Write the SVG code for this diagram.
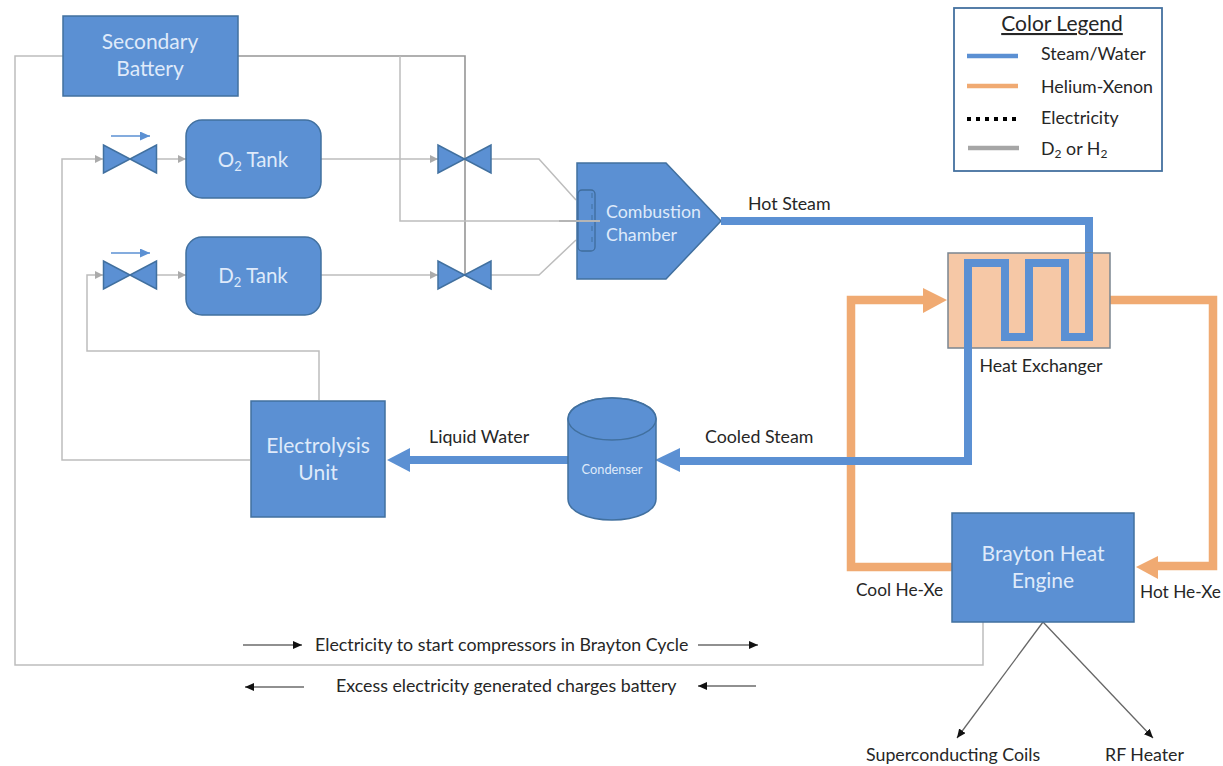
<svg xmlns="http://www.w3.org/2000/svg" width="1223" height="766" viewBox="0 0 1223 766">
<style>
text{font-family:"Lato","Open Sans","Liberation Sans",sans-serif}
.n{fill:#5b90d3;stroke:#41709f;stroke-width:1.5}
.w{fill:#dfeafa;font-size:21px;text-anchor:middle}
.k{fill:#262626;font-size:17.8px}
.g{fill:none;stroke:#bdbdbd;stroke-width:1.5}
.e{fill:none;stroke:#969696;stroke-width:1.6}
.b{fill:none;stroke:#5b90d3;stroke-width:8}
.o{fill:none;stroke:#f0aa72;stroke-width:8.500}
.t{fill:none;stroke:#222;stroke-width:1.2}
.d{fill:none;stroke:#666;stroke-width:1.3}
</style>
<defs>
<marker id="ga" markerWidth="9" markerHeight="9" refX="8" refY="4" orient="auto" markerUnits="userSpaceOnUse"><path d="M0 0L8 4L0 8Z" fill="#ababab"/></marker>
<marker id="ka" markerWidth="10" markerHeight="10" refX="9" refY="4" orient="auto" markerUnits="userSpaceOnUse"><path d="M0 0L9 4L0 8Z" fill="#111"/></marker>
<marker id="la" markerWidth="11" markerHeight="10" refX="10" refY="4.5" orient="auto" markerUnits="userSpaceOnUse"><path d="M0 0L10 4.5L0 9Z" fill="#5b90d3"/></marker>
<g id="valve"><path class="n" d="M-26.500 -14V14L26.500 -14V14Z"/></g>
</defs>
<rect width="1223" height="766" fill="#fff"/>
<g id="connectors">
<path class="g" d="M63 56H15V665H983V622"/>
<path class="e" d="M238 56H465V159M465 159V275"/>
<path class="g" d="M400 56V221H600"/>
<path class="g" d="M250 460H62V159H103" marker-end="url(#ga)"/>
<path class="g" d="M319 400V351H87V275H103" marker-end="url(#ga)"/>
<path class="g" d="M157 159H186" marker-end="url(#ga)"/>
<path class="g" d="M157 275H186" marker-end="url(#ga)"/>
<path class="g" d="M321 159H438" marker-end="url(#ga)"/>
<path class="g" d="M321 275H438" marker-end="url(#ga)"/>
<path class="g" d="M491 159H539L576 200"/>
<path class="g" d="M491 275H539L576 240"/>
<path d="M111 136H150" fill="none" stroke="#5b90d3" stroke-width="1.4" marker-end="url(#la)"/>
<path d="M111 253H150" fill="none" stroke="#5b90d3" stroke-width="1.4" marker-end="url(#la)"/>
<path class="o" d="M1110 300H1213V566H1156"/>
<path d="M1136 567L1158 556V579Z" fill="#f0aa72"/>
<path class="o" d="M952 567H851V300H925"/>
<path d="M947 300L923 288V313Z" fill="#f0aa72"/>
<path class="t" d="M243 645H302" marker-end="url(#ka)"/>
<path class="t" d="M698 645H758" marker-end="url(#ka)"/>
<path class="t" d="M304 687H245" marker-end="url(#ka)"/>
<path class="t" d="M756 686H698" marker-end="url(#ka)"/>
<path class="d" d="M1043 622L957 738" marker-end="url(#ka)"/>
<path class="d" d="M1043 622L1153 738" marker-end="url(#ka)"/>
</g>
<g id="secondary-battery"><rect class="n" x="63" y="16" width="175" height="80"/><text class="w" x="150" y="49">Secondary</text><text class="w" x="150" y="76">Battery</text></g>
<g id="valve-o2-in"><use href="#valve" x="130" y="159"/></g>
<g id="valve-d2-in"><use href="#valve" x="130" y="275"/></g>
<g id="valve-o2-out"><use href="#valve" x="464.500" y="159"/></g>
<g id="valve-d2-out"><use href="#valve" x="464.500" y="275"/></g>
<g id="o2-tank"><rect class="n" x="186" y="120" width="135" height="78" rx="16"/><text class="w" x="253" y="167" style="font-size:20.500px">O<tspan font-size="13" dy="4">2</tspan><tspan dy="-4"> Tank</tspan></text></g>
<g id="d2-tank"><rect class="n" x="186" y="237" width="135" height="78" rx="16"/><text class="w" x="253" y="283" style="font-size:20.500px">D<tspan font-size="13" dy="4">2</tspan><tspan dy="-4"> Tank</tspan></text></g>
<g id="combustion-chamber"><path class="n" d="M577 163H666L721 221L666 279H577Z"/><rect x="578" y="190" width="17" height="61" rx="4" fill="#5b90d3" stroke="#3f6c9c" stroke-width="1.3"/><path d="M592 193V248" stroke="#41709f" stroke-width="1" stroke-dasharray="5 6" fill="none"/><path d="M559 221H600" stroke="#b5b5b5" stroke-width="2" fill="none"/><text x="606" y="218" font-size="17.8" fill="#dfeafa">Combustion</text><text x="606" y="241" font-size="17.8" fill="#dfeafa">Chamber</text></g>
<g id="steam-lines">
<path class="b" d="M721 221H1089V253"/>
<path class="b" d="M968 348V461H678"/>
<path d="M655 460L680 448V472Z" fill="#5b90d3"/>
<path class="b" d="M568 460H408"/>
<path d="M387 460L410 448V472Z" fill="#5b90d3"/>
</g>
<g id="heat-exchanger"><path d="M948 253H1110V348H948Z" fill="#f6c8a6" stroke="#7b8590" stroke-width="1.5"/><path class="b" d="M1089 253V337H1065V263H1029V337H1005V263H968V350"/><text class="k" x="1041" y="372" text-anchor="middle">Heat Exchanger</text></g>
<g id="brayton-heat-engine"><rect class="n" x="952" y="513" width="182" height="109"/><text class="w" x="1043" y="561">Brayton Heat</text><text class="w" x="1043" y="588">Engine</text></g>
<g id="electrolysis-unit"><rect class="n" x="251" y="401" width="134" height="116"/><text class="w" x="318" y="453">Electrolysis</text><text class="w" x="318" y="480">Unit</text></g>
<g id="condenser"><path class="n" d="M568 419C568 407 587 398 612 398S656 407 656 419V499C656 511 637 520 612 520S568 511 568 499Z"/><ellipse class="n" cx="612" cy="419" rx="44" ry="21"/><text x="612" y="474" font-size="12.800" fill="#dfeafa" text-anchor="middle">Condenser</text></g>
<g id="labels">
<text class="k" x="748" y="210">Hot Steam</text>
<text class="k" x="429" y="443">Liquid Water</text>
<text class="k" x="705" y="443">Cooled Steam</text>
<text class="k" x="856" y="596" style="font-size:17.300px">Cool He-Xe</text>
<text class="k" x="1140" y="598" style="font-size:17.300px">Hot He-Xe</text>
<text class="k" x="315" y="651">Electricity to start compressors in Brayton Cycle</text>
<text class="k" x="336" y="692">Excess electricity generated charges battery</text>
<text class="k" x="866" y="761">Superconducting Coils</text>
<text class="k" x="1105" y="761">RF Heater</text>
</g>
<g id="legend">
<rect x="954" y="8" width="208" height="163" fill="#fff" stroke="#44719f" stroke-width="1.800"/>
<text x="1062" y="31" font-size="21" fill="#262626" text-anchor="middle" text-decoration="underline">Color Legend</text>
<path d="M967 56H1018" stroke="#5b90d3" stroke-width="4.500" fill="none"/>
<path d="M967 86H1018" stroke="#f0aa72" stroke-width="4.500" fill="none"/>
<path d="M967 119H1018" stroke="#000" stroke-width="4" stroke-dasharray="4 5" fill="none"/>
<path d="M968 148H1019" stroke="#a6a6a6" stroke-width="4.500" fill="none"/>
<text class="k" x="1041" y="60">Steam/Water</text>
<text class="k" x="1041" y="93">Helium-Xenon</text>
<text class="k" x="1041" y="124">Electricity</text>
<text class="k" x="1041" y="155">D<tspan font-size="12" dy="3">2</tspan><tspan dy="-3"> or H</tspan><tspan font-size="12" dy="3">2</tspan></text>
</g>
</svg>
